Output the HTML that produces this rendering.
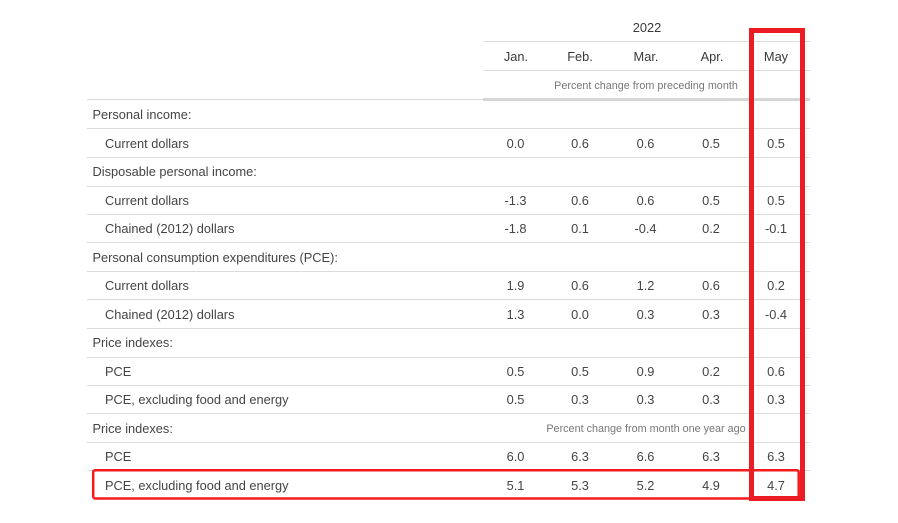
<!DOCTYPE html>
<html><head><meta charset="utf-8"><style>
html,body{margin:0;padding:0;background:#fff;}
body{width:898px;height:523px;position:relative;overflow:hidden;font-family:"Liberation Sans",Arial,sans-serif;color:#444;}
.ln{position:absolute;height:1px;background:#dcdcdc;left:87px;width:723px;}
.r{position:absolute;left:0;width:898px;height:28px;}
.t{position:absolute;left:92.5px;top:1px;font-size:12.8px;line-height:28px;white-space:nowrap;}
.t.i{left:105px;}
.c{position:absolute;top:1px;width:70px;text-align:center;font-size:12.8px;line-height:28px;}
.c1{left:480.5px}.c2{left:545px}.c3{left:610.5px}.c4{left:676px}.c5{left:741px}
.sub{position:absolute;font-size:10.8px;color:#777;width:300px;left:496px;text-align:center;line-height:28px;}
.h{position:absolute;width:70px;text-align:center;font-size:12.8px;line-height:16px;color:#3a3a3a;}
</style></head><body>
<div class="h" style="left:612px;top:20px;">2022</div>
<div class="ln" style="left:483px;top:41px;width:327px;"></div>
<div class="h" style="left:481px;top:49px;">Jan.</div>
<div class="h" style="left:545px;top:49px;">Feb.</div>
<div class="h" style="left:611px;top:49px;">Mar.</div>
<div class="h" style="left:677px;top:49px;">Apr.</div>
<div class="h" style="left:741px;top:49px;">May</div>
<div class="ln" style="left:483px;top:70px;width:327px;"></div>
<div class="sub" style="top:71.5px;">Percent change from preceding month</div>
<div class="ln" style="top:99px;"></div>
<div class="ln" style="left:483px;top:98px;width:327px;height:3px;background:#d6d6d6;"></div>

<div class="r" style="top:100px;"><div class="t">Personal income:</div></div>
<div class="ln" style="top:128px;"></div>
<div class="r" style="top:128.5px;"><div class="t i">Current dollars</div><div class="c c1">0.0</div><div class="c c2">0.6</div><div class="c c3">0.6</div><div class="c c4">0.5</div><div class="c c5">0.5</div></div>
<div class="ln" style="top:157px;"></div>
<div class="r" style="top:157px;"><div class="t">Disposable personal income:</div></div>
<div class="ln" style="top:186px;"></div>
<div class="r" style="top:185.5px;"><div class="t i">Current dollars</div><div class="c c1">-1.3</div><div class="c c2">0.6</div><div class="c c3">0.6</div><div class="c c4">0.5</div><div class="c c5">0.5</div></div>
<div class="ln" style="top:214px;"></div>
<div class="r" style="top:214px;"><div class="t i">Chained (2012) dollars</div><div class="c c1">-1.8</div><div class="c c2">0.1</div><div class="c c3">-0.4</div><div class="c c4">0.2</div><div class="c c5">-0.1</div></div>
<div class="ln" style="top:242px;"></div>
<div class="r" style="top:242.5px;"><div class="t">Personal consumption expenditures (PCE):</div></div>
<div class="ln" style="top:271px;"></div>
<div class="r" style="top:271px;"><div class="t i">Current dollars</div><div class="c c1">1.9</div><div class="c c2">0.6</div><div class="c c3">1.2</div><div class="c c4">0.6</div><div class="c c5">0.2</div></div>
<div class="ln" style="top:299px;"></div>
<div class="r" style="top:299.5px;"><div class="t i">Chained (2012) dollars</div><div class="c c1">1.3</div><div class="c c2">0.0</div><div class="c c3">0.3</div><div class="c c4">0.3</div><div class="c c5">-0.4</div></div>
<div class="ln" style="top:328px;"></div>
<div class="r" style="top:328px;"><div class="t">Price indexes:</div></div>
<div class="ln" style="top:357px;"></div>
<div class="r" style="top:356.5px;"><div class="t i">PCE</div><div class="c c1">0.5</div><div class="c c2">0.5</div><div class="c c3">0.9</div><div class="c c4">0.2</div><div class="c c5">0.6</div></div>
<div class="ln" style="top:385px;"></div>
<div class="r" style="top:385px;"><div class="t i">PCE, excluding food and energy</div><div class="c c1">0.5</div><div class="c c2">0.3</div><div class="c c3">0.3</div><div class="c c4">0.3</div><div class="c c5">0.3</div></div>
<div class="ln" style="top:413px;"></div>
<div class="r" style="top:413.5px;"><div class="t">Price indexes:</div></div>
<div class="sub" style="top:414.5px;">Percent change from month one year ago</div>
<div class="ln" style="top:442px;"></div>
<div class="r" style="top:442px;"><div class="t i">PCE</div><div class="c c1">6.0</div><div class="c c2">6.3</div><div class="c c3">6.6</div><div class="c c4">6.3</div><div class="c c5">6.3</div></div>
<div class="ln" style="top:470px;"></div>
<div class="r" style="top:470.5px;"><div class="t i">PCE, excluding food and energy</div><div class="c c1">5.1</div><div class="c c2">5.3</div><div class="c c3">5.2</div><div class="c c4">4.9</div><div class="c c5">4.7</div></div>

<svg width="898" height="523" style="position:absolute;left:0;top:0;">
<rect x="93.2" y="470.2" width="705.5" height="28.3" rx="2" fill="none" stroke="#f31b1b" stroke-width="2.5"/>
<rect x="751.5" y="30.5" width="51" height="468" fill="none" stroke="#ec1c24" stroke-width="5"/>
</svg>
</body></html>
